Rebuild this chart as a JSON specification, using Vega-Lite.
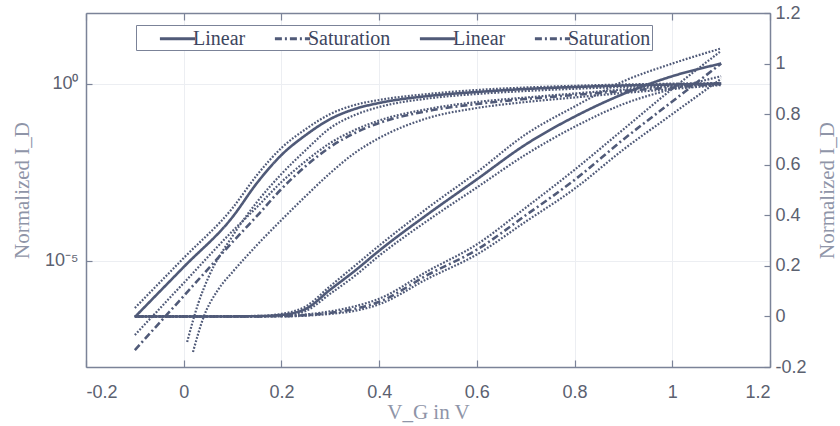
{
  "$schema": "https://vega.github.io/schema/vega-lite/v6.json",
  "width": 684,
  "height": 354,
  "autosize": "none",
  "padding": {"left": 86, "top": 13, "right": 70, "bottom": 59},
  "background": "white",
  "config": {
    "view": {"stroke": null},
    "axis": {
      "domainColor": "#7b8398",
      "domainWidth": 1.5,
      "tickColor": "#7b8398",
      "tickWidth": 1.2,
      "gridColor": "#eceef2",
      "gridWidth": 1,
      "labelColor": "#5b6170",
      "labelFont": "Liberation Sans",
      "labelFontSize": 18,
      "titleColor": "#8f95a8",
      "titleFont": "Liberation Serif",
      "titleFontSize": 21,
      "titleFontWeight": "normal"
    },
    "legend": {
      "orient": "none",
      "legendX": 50,
      "legendY": 12,
      "direction": "horizontal",
      "columns": 4,
      "columnPadding": 6,
      "padding": 1,
      "strokeColor": "#7b8398",
      "fillColor": "white",
      "symbolType": "M-1.6,0L1.6,0",
      "symbolSize": 484,
      "symbolOffset": 28,
      "symbolStrokeWidth": 3,
      "symbolStrokeColor": "#505a78",
      "symbolFillColor": "transparent",
      "labelFont": "Liberation Serif",
      "labelFontSize": 20,
      "labelColor": "#3d4660",
      "labelOffset": 3
    }
  },
  "datasets": {
    "logMain": [
      {"x": -0.1, "I": 2.58e-7, "s": "Linear (log)"},
      {"x": 0.0, "I": 6.68e-6, "s": "Linear (log)"},
      {"x": 0.1, "I": 1.73e-4, "s": "Linear (log)"},
      {"x": 0.15, "I": 1.58e-3, "s": "Linear (log)"},
      {"x": 0.2, "I": 9.75e-3, "s": "Linear (log)"},
      {"x": 0.25, "I": 0.0358, "s": "Linear (log)"},
      {"x": 0.3, "I": 0.101, "s": "Linear (log)"},
      {"x": 0.35, "I": 0.194, "s": "Linear (log)"},
      {"x": 0.4, "I": 0.287, "s": "Linear (log)"},
      {"x": 0.5, "I": 0.452, "s": "Linear (log)"},
      {"x": 0.6, "I": 0.586, "s": "Linear (log)"},
      {"x": 0.7, "I": 0.713, "s": "Linear (log)"},
      {"x": 0.8, "I": 0.813, "s": "Linear (log)"},
      {"x": 0.9, "I": 0.895, "s": "Linear (log)"},
      {"x": 1.0, "I": 0.955, "s": "Linear (log)"},
      {"x": 1.1, "I": 1.0, "s": "Linear (log)"},
      {"x": -0.1, "I": 3.02e-8, "s": "Saturation (log)"},
      {"x": 0.0, "I": 1.01e-6, "s": "Saturation (log)"},
      {"x": 0.1, "I": 3.4e-5, "s": "Saturation (log)"},
      {"x": 0.15, "I": 1.85e-4, "s": "Saturation (log)"},
      {"x": 0.2, "I": 1.07e-3, "s": "Saturation (log)"},
      {"x": 0.25, "I": 4.76e-3, "s": "Saturation (log)"},
      {"x": 0.3, "I": 0.0164, "s": "Saturation (log)"},
      {"x": 0.35, "I": 0.0407, "s": "Saturation (log)"},
      {"x": 0.4, "I": 0.0781, "s": "Saturation (log)"},
      {"x": 0.5, "I": 0.171, "s": "Saturation (log)"},
      {"x": 0.6, "I": 0.269, "s": "Saturation (log)"},
      {"x": 0.7, "I": 0.372, "s": "Saturation (log)"},
      {"x": 0.8, "I": 0.483, "s": "Saturation (log)"},
      {"x": 0.9, "I": 0.626, "s": "Saturation (log)"},
      {"x": 1.0, "I": 0.786, "s": "Saturation (log)"},
      {"x": 1.1, "I": 1.0, "s": "Saturation (log)"}
    ],
    "logEnv": [
      {"x": -0.1, "I": 4.65e-7, "s": "lin-up"},
      {"x": 0.0, "I": 1.2e-5, "s": "lin-up"},
      {"x": 0.1, "I": 3.1e-4, "s": "lin-up"},
      {"x": 0.15, "I": 2.65e-3, "s": "lin-up"},
      {"x": 0.2, "I": 0.0154, "s": "lin-up"},
      {"x": 0.25, "I": 0.0528, "s": "lin-up"},
      {"x": 0.3, "I": 0.14, "s": "lin-up"},
      {"x": 0.35, "I": 0.252, "s": "lin-up"},
      {"x": 0.4, "I": 0.349, "s": "lin-up"},
      {"x": 0.5, "I": 0.515, "s": "lin-up"},
      {"x": 0.6, "I": 0.668, "s": "lin-up"},
      {"x": 0.7, "I": 0.786, "s": "lin-up"},
      {"x": 0.8, "I": 0.879, "s": "lin-up"},
      {"x": 0.9, "I": 0.955, "s": "lin-up"},
      {"x": 1.0, "I": 1.01, "s": "lin-up"},
      {"x": 1.1, "I": 1.05, "s": "lin-up"},
      {"x": 0.007, "I": 5.08e-8, "s": "lin-lo"},
      {"x": 0.03, "I": 6.43e-7, "s": "lin-lo"},
      {"x": 0.05, "I": 3.27e-6, "s": "lin-lo"},
      {"x": 0.1, "I": 5.02e-5, "s": "lin-lo"},
      {"x": 0.15, "I": 4.58e-4, "s": "lin-lo"},
      {"x": 0.2, "I": 2.83e-3, "s": "lin-lo"},
      {"x": 0.25, "I": 0.0135, "s": "lin-lo"},
      {"x": 0.3, "I": 0.0564, "s": "lin-lo"},
      {"x": 0.35, "I": 0.131, "s": "lin-lo"},
      {"x": 0.4, "I": 0.221, "s": "lin-lo"},
      {"x": 0.5, "I": 0.385, "s": "lin-lo"},
      {"x": 0.6, "I": 0.515, "s": "lin-lo"},
      {"x": 0.7, "I": 0.626, "s": "lin-lo"},
      {"x": 0.8, "I": 0.723, "s": "lin-lo"},
      {"x": 0.9, "I": 0.813, "s": "lin-lo"},
      {"x": 1.0, "I": 0.895, "s": "lin-lo"},
      {"x": 1.1, "I": 0.955, "s": "lin-lo"},
      {"x": -0.1, "I": 8.02e-8, "s": "sat-up"},
      {"x": 0.0, "I": 2.36e-6, "s": "sat-up"},
      {"x": 0.1, "I": 6.95e-5, "s": "sat-up"},
      {"x": 0.15, "I": 3.31e-4, "s": "sat-up"},
      {"x": 0.2, "I": 1.68e-3, "s": "sat-up"},
      {"x": 0.25, "I": 6.59e-3, "s": "sat-up"},
      {"x": 0.3, "I": 0.0213, "s": "sat-up"},
      {"x": 0.35, "I": 0.0495, "s": "sat-up"},
      {"x": 0.4, "I": 0.0918, "s": "sat-up"},
      {"x": 0.5, "I": 0.194, "s": "sat-up"},
      {"x": 0.6, "I": 0.306, "s": "sat-up"},
      {"x": 0.7, "I": 0.41, "s": "sat-up"},
      {"x": 0.8, "I": 0.532, "s": "sat-up"},
      {"x": 0.9, "I": 0.69, "s": "sat-up"},
      {"x": 1.0, "I": 0.867, "s": "sat-up"},
      {"x": 1.1, "I": 1.05, "s": "sat-up"},
      {"x": 0.019, "I": 2.65e-8, "s": "sat-lo"},
      {"x": 0.04, "I": 2.42e-7, "s": "sat-lo"},
      {"x": 0.07, "I": 1.5e-6, "s": "sat-lo"},
      {"x": 0.1, "I": 4.83e-6, "s": "sat-lo"},
      {"x": 0.15, "I": 2.79e-5, "s": "sat-lo"},
      {"x": 0.2, "I": 1.42e-4, "s": "sat-lo"},
      {"x": 0.25, "I": 6.78e-4, "s": "sat-lo"},
      {"x": 0.3, "I": 3.02e-3, "s": "sat-lo"},
      {"x": 0.35, "I": 0.0111, "s": "sat-lo"},
      {"x": 0.4, "I": 0.0294, "s": "sat-lo"},
      {"x": 0.5, "I": 0.108, "s": "sat-lo"},
      {"x": 0.6, "I": 0.207, "s": "sat-lo"},
      {"x": 0.7, "I": 0.306, "s": "sat-lo"},
      {"x": 0.8, "I": 0.41, "s": "sat-lo"},
      {"x": 0.9, "I": 0.55, "s": "sat-lo"},
      {"x": 1.0, "I": 0.713, "s": "sat-lo"},
      {"x": 1.1, "I": 0.925, "s": "sat-lo"}
    ],
    "linMain": [
      {"x": -0.1, "v": 0, "s": "Linear (lin)"},
      {"x": 0.0, "v": 0, "s": "Linear (lin)"},
      {"x": 0.1, "v": 0, "s": "Linear (lin)"},
      {"x": 0.15, "v": 0.001, "s": "Linear (lin)"},
      {"x": 0.2, "v": 0.006, "s": "Linear (lin)"},
      {"x": 0.25, "v": 0.03, "s": "Linear (lin)"},
      {"x": 0.3, "v": 0.106, "s": "Linear (lin)"},
      {"x": 0.35, "v": 0.18, "s": "Linear (lin)"},
      {"x": 0.4, "v": 0.26, "s": "Linear (lin)"},
      {"x": 0.5, "v": 0.405, "s": "Linear (lin)"},
      {"x": 0.6, "v": 0.542, "s": "Linear (lin)"},
      {"x": 0.7, "v": 0.68, "s": "Linear (lin)"},
      {"x": 0.8, "v": 0.79, "s": "Linear (lin)"},
      {"x": 0.9, "v": 0.88, "s": "Linear (lin)"},
      {"x": 1.0, "v": 0.95, "s": "Linear (lin)"},
      {"x": 1.1, "v": 1.0, "s": "Linear (lin)"},
      {"x": -0.1, "v": 0, "s": "Saturation (lin)"},
      {"x": 0.0, "v": 0, "s": "Saturation (lin)"},
      {"x": 0.1, "v": 0, "s": "Saturation (lin)"},
      {"x": 0.2, "v": 0.001, "s": "Saturation (lin)"},
      {"x": 0.25, "v": 0.005, "s": "Saturation (lin)"},
      {"x": 0.3, "v": 0.014, "s": "Saturation (lin)"},
      {"x": 0.35, "v": 0.03, "s": "Saturation (lin)"},
      {"x": 0.4, "v": 0.058, "s": "Saturation (lin)"},
      {"x": 0.5, "v": 0.165, "s": "Saturation (lin)"},
      {"x": 0.6, "v": 0.264, "s": "Saturation (lin)"},
      {"x": 0.7, "v": 0.4, "s": "Saturation (lin)"},
      {"x": 0.8, "v": 0.54, "s": "Saturation (lin)"},
      {"x": 0.9, "v": 0.7, "s": "Saturation (lin)"},
      {"x": 1.0, "v": 0.85, "s": "Saturation (lin)"},
      {"x": 1.1, "v": 1.0, "s": "Saturation (lin)"}
    ],
    "linEnv": [
      {"x": -0.1, "v": 0, "s": "lin-up"},
      {"x": 0.15, "v": 0.002, "s": "lin-up"},
      {"x": 0.2, "v": 0.01, "s": "lin-up"},
      {"x": 0.25, "v": 0.04, "s": "lin-up"},
      {"x": 0.3, "v": 0.12, "s": "lin-up"},
      {"x": 0.35, "v": 0.2, "s": "lin-up"},
      {"x": 0.4, "v": 0.28, "s": "lin-up"},
      {"x": 0.5, "v": 0.43, "s": "lin-up"},
      {"x": 0.6, "v": 0.57, "s": "lin-up"},
      {"x": 0.7, "v": 0.72, "s": "lin-up"},
      {"x": 0.8, "v": 0.83, "s": "lin-up"},
      {"x": 0.9, "v": 0.93, "s": "lin-up"},
      {"x": 1.0, "v": 1.0, "s": "lin-up"},
      {"x": 1.1, "v": 1.06, "s": "lin-up"},
      {"x": -0.1, "v": 0, "s": "lin-lo"},
      {"x": 0.15, "v": 0, "s": "lin-lo"},
      {"x": 0.2, "v": 0.003, "s": "lin-lo"},
      {"x": 0.25, "v": 0.022, "s": "lin-lo"},
      {"x": 0.3, "v": 0.09, "s": "lin-lo"},
      {"x": 0.35, "v": 0.16, "s": "lin-lo"},
      {"x": 0.4, "v": 0.24, "s": "lin-lo"},
      {"x": 0.5, "v": 0.38, "s": "lin-lo"},
      {"x": 0.6, "v": 0.51, "s": "lin-lo"},
      {"x": 0.7, "v": 0.64, "s": "lin-lo"},
      {"x": 0.8, "v": 0.75, "s": "lin-lo"},
      {"x": 0.9, "v": 0.84, "s": "lin-lo"},
      {"x": 1.0, "v": 0.9, "s": "lin-lo"},
      {"x": 1.1, "v": 0.95, "s": "lin-lo"},
      {"x": -0.1, "v": 0, "s": "sat-up"},
      {"x": 0.2, "v": 0.002, "s": "sat-up"},
      {"x": 0.25, "v": 0.008, "s": "sat-up"},
      {"x": 0.3, "v": 0.02, "s": "sat-up"},
      {"x": 0.35, "v": 0.04, "s": "sat-up"},
      {"x": 0.4, "v": 0.07, "s": "sat-up"},
      {"x": 0.5, "v": 0.18, "s": "sat-up"},
      {"x": 0.6, "v": 0.285, "s": "sat-up"},
      {"x": 0.7, "v": 0.43, "s": "sat-up"},
      {"x": 0.8, "v": 0.58, "s": "sat-up"},
      {"x": 0.9, "v": 0.74, "s": "sat-up"},
      {"x": 1.0, "v": 0.9, "s": "sat-up"},
      {"x": 1.1, "v": 1.05, "s": "sat-up"},
      {"x": -0.1, "v": 0, "s": "sat-lo"},
      {"x": 0.2, "v": 0, "s": "sat-lo"},
      {"x": 0.25, "v": 0.003, "s": "sat-lo"},
      {"x": 0.3, "v": 0.01, "s": "sat-lo"},
      {"x": 0.35, "v": 0.022, "s": "sat-lo"},
      {"x": 0.4, "v": 0.048, "s": "sat-lo"},
      {"x": 0.5, "v": 0.15, "s": "sat-lo"},
      {"x": 0.6, "v": 0.245, "s": "sat-lo"},
      {"x": 0.7, "v": 0.375, "s": "sat-lo"},
      {"x": 0.8, "v": 0.505, "s": "sat-lo"},
      {"x": 0.9, "v": 0.66, "s": "sat-lo"},
      {"x": 1.0, "v": 0.8, "s": "sat-lo"},
      {"x": 1.1, "v": 0.94, "s": "sat-lo"}
    ]
  },
  "layer": [
    {
      "encoding": {
        "x": {
          "field": "x", "type": "quantitative",
          "scale": {"domain": [-0.2, 1.2], "nice": false, "zero": false},
          "axis": {
            "orient": "bottom",
            "values": [-0.2, 0, 0.2, 0.4, 0.6, 0.8, 1, 1.2],
            "labelExpr": "datum.value < 0 ? '-0.2' : format(datum.value, '~g')",
            "tickSize": -7,
            "labelPadding": 23,
            "grid": true,
            "title": "V_G in V",
            "titlePadding": 0
          }
        },
        "y": {
          "field": "I", "type": "quantitative",
          "scale": {"type": "log", "domain": [1e-8, 100], "nice": false},
          "axis": {
            "orient": "left",
            "values": [1e-5, 1],
            "labelExpr": "datum.value >= 0.5 ? '10⁰' : '10⁻⁵'",
            "tickSize": -6,
            "labelPadding": 14,
            "grid": true,
            "title": "Normalized I_D",
            "titlePadding": 12
          }
        }
      },
      "layer": [
        {
          "data": {"name": "logEnv"},
          "mark": {"type": "line", "interpolate": "monotone", "clip": true, "color": "#505a78", "strokeWidth": 2.2, "strokeDash": [1.8, 1.6]},
          "encoding": {"detail": {"field": "s"}}
        },
        {
          "data": {"name": "logMain"},
          "mark": {"type": "line", "interpolate": "monotone", "clip": true, "color": "#505a78", "strokeWidth": 2.6},
          "encoding": {
            "strokeDash": {
              "field": "s", "type": "nominal",
              "scale": {
                "domain": ["Linear (log)", "Saturation (log)", "Linear (lin)", "Saturation (lin)"],
                "range": [[1, 0], [7, 3, 2, 3], [1, 0], [7, 3, 2, 3]]
              },
              "legend": {"title": null, "labelExpr": "split(datum.label, ' ')[0]"}
            }
          }
        }
      ]
    },
    {
      "encoding": {
        "x": {
          "field": "x", "type": "quantitative",
          "scale": {"domain": [-0.2, 1.2], "nice": false, "zero": false},
          "axis": {
            "orient": "top",
            "values": [-0.2, 0, 0.2, 0.4, 0.6, 0.8, 1, 1.2],
            "labels": false,
            "tickSize": -7,
            "grid": false,
            "title": null
          }
        },
        "y": {
          "field": "v", "type": "quantitative",
          "scale": {"domain": [-0.2, 1.2], "nice": false, "zero": false},
          "axis": {
            "orient": "right",
            "values": [-0.2, 0, 0.2, 0.4, 0.6, 0.8, 1, 1.2],
            "labelExpr": "datum.value < 0 ? '-0.2' : format(datum.value, '~g')",
            "tickSize": -6,
            "labelPadding": 11,
            "grid": false,
            "title": "Normalized I_D",
            "titleAngle": 270,
            "titleBaseline": "top",
            "titlePadding": 10
          }
        }
      },
      "layer": [
        {
          "data": {"name": "linEnv"},
          "mark": {"type": "line", "interpolate": "monotone", "clip": true, "color": "#505a78", "strokeWidth": 2.2, "strokeDash": [1.8, 1.6]},
          "encoding": {"detail": {"field": "s"}}
        },
        {
          "data": {"name": "linMain"},
          "mark": {"type": "line", "interpolate": "monotone", "clip": true, "color": "#505a78", "strokeWidth": 2.6},
          "encoding": {
            "strokeDash": {"field": "s", "type": "nominal"}
          }
        }
      ]
    }
  ],
  "resolve": {
    "scale": {"y": "independent"},
    "axis": {"x": "independent", "y": "independent"}
  }
}
